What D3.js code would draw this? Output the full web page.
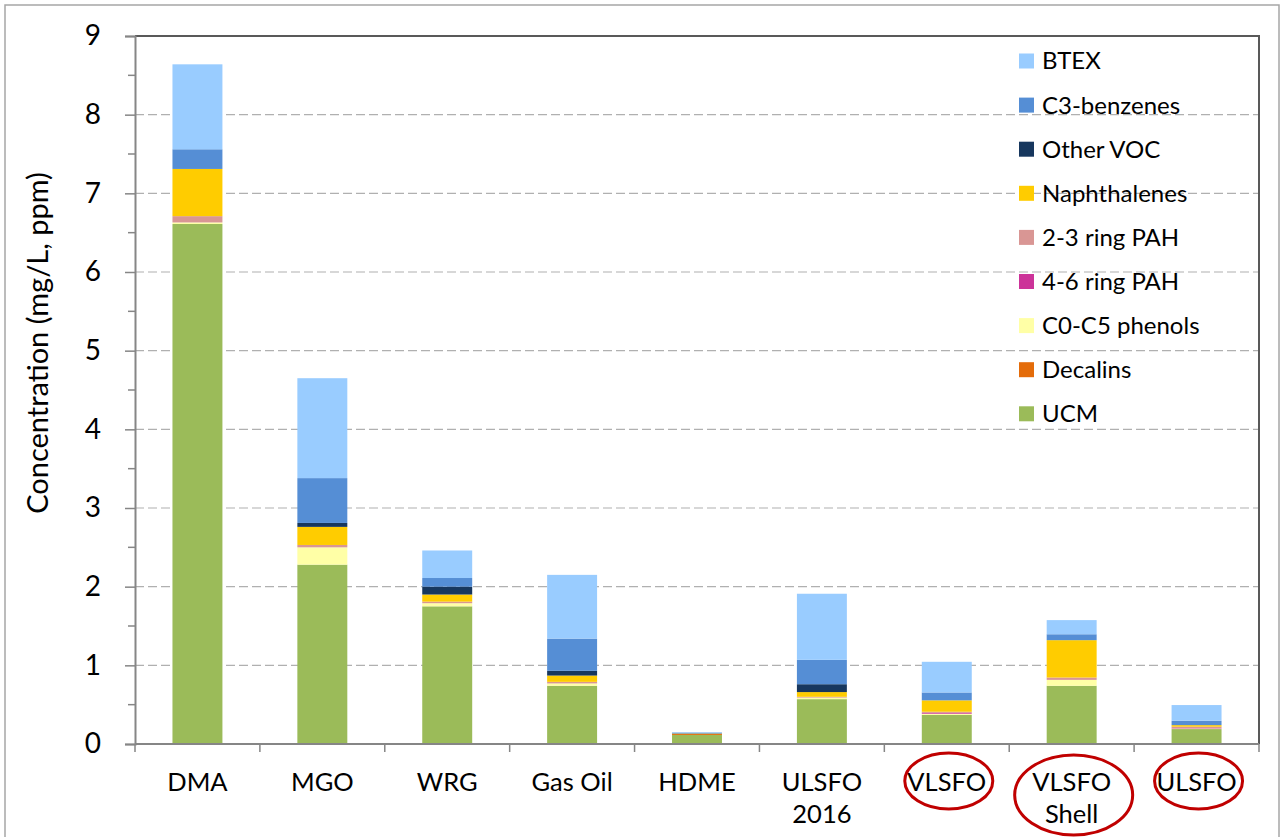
<!DOCTYPE html>
<html>
<head>
<meta charset="utf-8">
<script src="https://cdn.jsdelivr.net/npm/d3@7"></script>
<style>
  body { margin: 0; background: #fff; }
  text { font-family: Lato, "Open Sans", sans-serif; fill: #000; }
</style>
</head>
<body>
<div id="chart"></div>
<script>
// categories and stacked series (mg/L), bottom to top
const categories = ["DMA", "MGO", "WRG", "Gas Oil", "HDME", "ULSFO\n2016", "VLSFO", "VLSFO\nShell", "ULSFO"];
const circled = ["VLSFO", "VLSFO\nShell", "ULSFO"];

const ucm      = [6.61, 2.28, 1.75, 0.74, 0.115, 0.57, 0.37, 0.74, 0.19];
const decalins = [0, 0, 0, 0, 0.012, 0, 0, 0, 0];
const phenols  = [0.02, 0.22, 0.04, 0.03, 0, 0.02, 0.015, 0.075, 0.005];
const pah46    = [0, 0, 0, 0, 0, 0, 0.01, 0, 0.005];
const pah23    = [0.08, 0.03, 0.02, 0.02, 0, 0.01, 0.015, 0.03, 0.02];
const naph     = [0.60, 0.23, 0.09, 0.08, 0.005, 0.06, 0.145, 0.475, 0.02];
const otherVoc = [0, 0.05, 0.10, 0.06, 0.003, 0.10, 0, 0, 0];
const c3benz   = [0.25, 0.57, 0.11, 0.41, 0.01, 0.31, 0.10, 0.075, 0.055];
const btex     = [1.08, 1.27, 0.35, 0.81, 0.005, 0.84, 0.39, 0.18, 0.20];

const yTicks = [0, 1, 2, 3, 4, 5, 6, 7, 8, 9];

const series = [
  {name: "UCM", values: ucm, color: "#9bbb59"},
  {name: "Decalins", values: decalins, color: "#e46c0a"},
  {name: "C0-C5 phenols", values: phenols, color: "#ffffa6"},
  {name: "4-6 ring PAH", values: pah46, color: "#cc3399"},
  {name: "2-3 ring PAH", values: pah23, color: "#d99694"},
  {name: "Naphthalenes", values: naph, color: "#ffcc00"},
  {name: "Other VOC", values: otherVoc, color: "#17375e"},
  {name: "C3-benzenes", values: c3benz, color: "#558ed5"},
  {name: "BTEX", values: btex, color: "#99ccff"}
];

const W = 1282, H = 837;
const margin = {top: 36, right: 23, bottom: 93, left: 135};
const width = W - margin.left - margin.right,
      height = H - margin.top - margin.bottom;

const svg = d3.select("#chart").append("svg")
  .attr("width", W).attr("height", H);

// outer frame
svg.append("rect")
  .attr("x", 5).attr("y", 5).attr("width", 1274).attr("height", 850)
  .attr("fill", "none").attr("stroke", "#a6a6a6").attr("stroke-width", 1.5);

const g = svg.append("g").attr("transform", `translate(${margin.left},${margin.top})`);

const x = d3.scaleBand().domain(categories).range([0, width]).paddingInner(0.6).paddingOuter(0.3);
const band = d3.scaleBand().domain(categories).range([0, width]);
const y = d3.scaleLinear().domain([0, 9]).range([height, 0]);

// gridlines
g.append("g").selectAll("line")
  .data(yTicks.filter(d => d > 0 && d < 9))
  .join("line")
  .attr("x1", 0).attr("x2", width)
  .attr("y1", d => y(d)).attr("y2", d => y(d))
  .attr("stroke", "#b0b0b0").attr("stroke-width", 1.2)
  .attr("stroke-dasharray", "9,4");

// plot frame (top + right)
g.append("path")
  .attr("d", `M0,0H${width}V${height}`)
  .attr("fill", "none").attr("stroke", "#595959").attr("stroke-width", 2);

// stacked bars
const table = categories.map((c, i) => {
  const row = {cat: c};
  series.forEach(s => row[s.name] = s.values[i]);
  return row;
});
const stacked = d3.stack().keys(series.map(s => s.name))(table);

g.append("g").selectAll("g")
  .data(stacked)
  .join("g")
  .attr("fill", (d, i) => series[i].color)
  .selectAll("rect")
  .data(d => d)
  .join("rect")
  .attr("x", d => x(d.data.cat))
  .attr("width", x.bandwidth())
  .attr("y", d => y(d[1]))
  .attr("height", d => y(d[0]) - y(d[1]));

// y axis
const yAxis = g.append("g")
  .call(d3.axisLeft(y).tickValues(yTicks).tickSize(10).tickPadding(24).tickFormat(d3.format("d")));
yAxis.select(".domain").attr("stroke", "#868686").attr("stroke-width", 2);
yAxis.selectAll(".tick line").attr("stroke", "#868686").attr("stroke-width", 1.5);
yAxis.selectAll(".tick text").style("font-size", "28px").attr("font-family", "Lato");

// minor ticks
g.append("g").selectAll("line")
  .data(d3.range(0.5, 9, 1))
  .join("line")
  .attr("x1", -7).attr("x2", 0)
  .attr("y1", d => y(d)).attr("y2", d => y(d))
  .attr("stroke", "#868686").attr("stroke-width", 1.5);

// x axis
g.append("line")
  .attr("x1", 0).attr("x2", width).attr("y1", height).attr("y2", height)
  .attr("stroke", "#868686").attr("stroke-width", 2);
g.append("g").selectAll("line")
  .data(categories.map(c => band(c)).concat([width]))
  .join("line")
  .attr("x1", d => d).attr("x2", d => d)
  .attr("y1", height).attr("y2", height + 8)
  .attr("stroke", "#868686").attr("stroke-width", 1.5);

const labels = g.append("g").selectAll("text")
  .data(categories)
  .join("text")
  .attr("text-anchor", "middle")
  .attr("x", d => x(d) + x.bandwidth() / 2)
  .attr("y", height + 47)
  .style("font-size", "25.5px");
labels.selectAll("tspan")
  .data(d => d.split("\n"))
  .join("tspan")
  .attr("x", function() { return d3.select(this.parentNode).attr("x"); })
  .attr("dy", (d, i) => i === 0 ? 0 : 32)
  .text(d => d);

// red ellipses around the low-sulphur fuels
g.append("g").selectAll("ellipse")
  .data(circled)
  .join("ellipse")
  .attr("cx", d => x(d) + x.bandwidth() / 2 + 2)
  .attr("cy", d => d.includes("\n") ? height + 51 : height + 37)
  .attr("rx", d => d.includes("\n") ? 59 : 44)
  .attr("ry", d => d.includes("\n") ? 40 : 28)
  .attr("fill", "none").attr("stroke", "#c00000").attr("stroke-width", 3);

// y axis title
svg.append("text")
  .attr("transform", "translate(48,343) rotate(-90)")
  .attr("text-anchor", "middle")
  .style("font-size", "29px")
  .text("Concentration (mg/L, ppm)");

// legend
const legend = svg.append("g").attr("transform", "translate(1019,61)");
const items = legend.selectAll("g")
  .data(series.slice().reverse())
  .join("g")
  .attr("transform", (d, i) => `translate(0,${i * 44.1})`);
items.append("rect")
  .attr("x", 0).attr("y", -7.5).attr("width", 15).attr("height", 15)
  .attr("fill", d => d.color);
items.append("text")
  .attr("x", 23).attr("y", 0).attr("dy", "0.35em")
  .style("font-size", "24px")
  .text(d => d.name);
</script>
</body>
</html>
